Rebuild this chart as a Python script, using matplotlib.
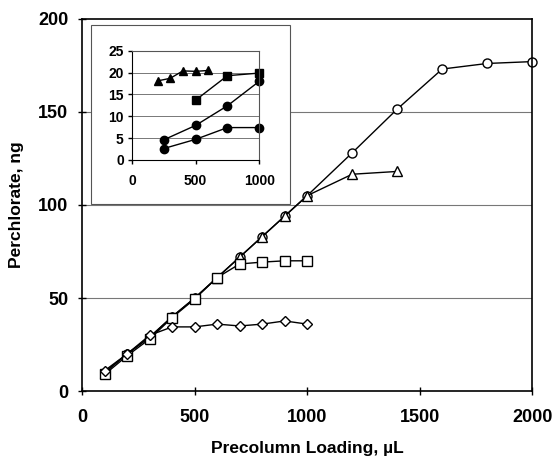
import numpy as np
import matplotlib.pyplot as plt
from matplotlib.patches import Rectangle

plt.rcParams['font.family'] = ['Liberation Sans', 'DejaVu Sans']
plt.rcParams['font.weight'] = 'bold'

# main plot data
x_circ = [100, 200, 300, 400, 500, 600, 700, 800, 900, 1000, 1200, 1400, 1600, 1800, 2000]
y_circ = [10, 20, 29, 40, 50, 61, 72, 83, 94, 105, 128, 151.5, 173, 176, 177]
x_tri = [100, 200, 300, 400, 500, 600, 700, 800, 900, 1000, 1200, 1400]
y_tri = [10, 20, 29, 40, 50, 61, 72, 83, 94, 105, 116.5, 118]
x_sq = [100, 200, 300, 400, 500, 600, 700, 800, 900, 1000]
y_sq = [9, 19, 28, 39.5, 49.5, 61, 68.3, 69.3, 70, 70]
x_dia = [100, 200, 300, 400, 500, 600, 700, 800, 900, 1000]
y_dia = [11, 20, 30, 34.5, 34.5, 36, 35, 36, 37.7, 36]

# inset data
xi_tri = [200, 300, 400, 500, 600]
yi_tri = [18.1, 18.7, 20.4, 20.3, 20.5]
xi_sq = [500, 750, 1000]
yi_sq = [13.7, 19.3, 19.9]
xi_c1 = [250, 500, 750, 1000]
yi_c1 = [4.6, 7.9, 12.4, 18.0]
xi_c2 = [250, 500, 750, 1000]
yi_c2 = [2.6, 4.7, 7.4, 7.4]

fig = plt.figure(figsize=(5.55, 4.58), dpi=100)
ax = fig.add_axes([0.148, 0.146, 0.811, 0.813])

mk = dict(color='black', lw=1, markerfacecolor='white', markeredgecolor='black',
          markersize=6.5, markeredgewidth=1, clip_on=False)
ax.plot(x_circ, y_circ, marker='o', **mk)
ax.plot(x_tri, y_tri, marker='^', **mk)
ax.plot(x_sq, y_sq, marker='s', **mk)
ax.plot(x_dia, y_dia, marker='D', **{**mk, 'markersize': 5})

ax.set_xlim(0, 2000)
ax.set_ylim(0, 200)
ax.set_xticks([0, 500, 1000, 1500, 2000])
ax.set_yticks([0, 50, 100, 150, 200])
for y in [50, 100, 150]:
    ax.axhline(y, color='#777777', lw=0.8, zorder=0)
ax.tick_params(direction='inout', length=6, width=1, labelsize=13, pad=7)
ax.tick_params(axis='x', pad=10)
for s in ax.spines.values():
    s.set_linewidth(1.2)
ax.set_xlabel('Precolumn Loading, µL', fontsize=12.5, fontweight='bold', labelpad=11)
ax.set_ylabel('Perchlorate, ng', fontsize=12.5, fontweight='bold', labelpad=10)

# inset frame
fig.patches.append(Rectangle((0.164, 0.555), 0.3585, 0.39, transform=fig.transFigure,
                             facecolor='white', edgecolor='#555555', lw=0.8, zorder=2))

ins = fig.add_axes([0.238, 0.651, 0.229, 0.238])
ins.set_zorder(3)
mi = dict(color='black', lw=1, markersize=6, markerfacecolor='black', clip_on=False)
ins.plot(xi_tri, yi_tri, marker='^', **mi)
ins.plot(xi_sq, yi_sq, marker='s', **mi)
ins.plot(xi_c1, yi_c1, marker='o', **mi)
ins.plot(xi_c2, yi_c2, marker='o', **mi)
ins.set_xlim(0, 1000)
ins.set_ylim(0, 25)
ins.set_xticks([0, 500, 1000])
ins.set_yticks([0, 5, 10, 15, 20, 25])
for y in [5, 10, 15, 20]:
    ins.axhline(y, color='#777777', lw=0.7, zorder=0)
ins.tick_params(direction='out', length=3, width=1, labelsize=10, pad=3)
ins.tick_params(axis='x', pad=7)
ins.spines['top'].set_color('#555555')
ins.spines['right'].set_color('#555555')
ins.spines['top'].set_linewidth(0.8)
ins.spines['right'].set_linewidth(0.8)
for lab in ins.get_xticklabels() + ins.get_yticklabels() + ax.get_xticklabels() + ax.get_yticklabels():
    lab.set_fontweight('bold')

fig.savefig('out.png', dpi=100)
